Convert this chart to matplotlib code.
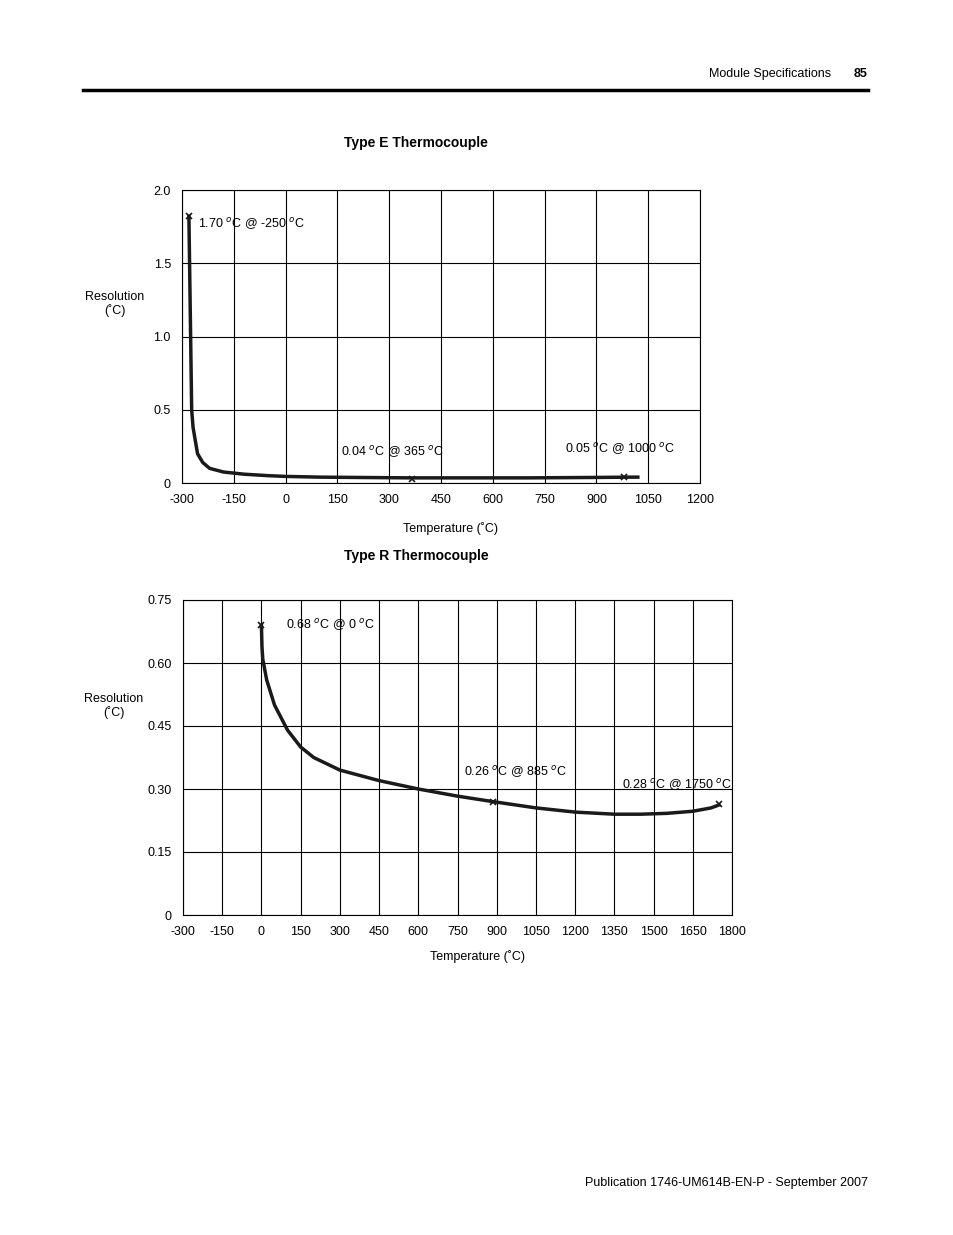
import matplotlib
matplotlib.use("Agg")
import matplotlib.pyplot as plt

plt.rcParams['font.family'] = ['Liberation Sans Narrow', 'Liberation Sans', 'DejaVu Sans']
plt.rcParams['font.size'] = 9

W, H = 954, 1235
# Type E data
e_x = [-280, -272, -268, -255, -240, -220, -180, -120, -50, 0, 100, 200, 365, 500, 700, 900, 1000, 1020]
e_y = [1.82, 0.50, 0.38, 0.20, 0.14, 0.10, 0.075, 0.06, 0.05, 0.045, 0.04, 0.038, 0.035, 0.035, 0.035, 0.038, 0.04, 0.04]
e_mark_x = [-280, 365, 980]
e_mark_y = [1.82, 0.025, 0.04]
e_xticks = [-300, -150, 0, 150, 300, 450, 600, 750, 900, 1050, 1200]
e_yticks = [0, 0.5, 1.0, 1.5, 2.0]
e_ylabels = ['0', '0.5', '1.0', '1.5', '2.0']

# Type R data
r_x = [0, 2, 5, 20, 50, 100, 150, 200, 300, 450, 600, 750, 885, 1050, 1200, 1350, 1450, 1550, 1650, 1720, 1750]
r_y = [0.69, 0.64, 0.61, 0.56, 0.50, 0.44, 0.40, 0.375, 0.345, 0.32, 0.30, 0.283, 0.27, 0.255, 0.245, 0.24, 0.24, 0.242, 0.247, 0.255, 0.262]
r_mark_x = [0, 885, 1750]
r_mark_y = [0.69, 0.27, 0.265]
r_xticks = [-300, -150, 0, 150, 300, 450, 600, 750, 900, 1050, 1200, 1350, 1500, 1650, 1800]
r_yticks = [0, 0.15, 0.30, 0.45, 0.60, 0.75]
r_ylabels = ['0', '0.15', '0.30', '0.45', '0.60', '0.75']

fig = plt.figure(figsize=(W/100, H/100), dpi=100)

def ax_px(l, t, r, b):
    return fig.add_axes([l/W, 1-b/H, (r-l)/W, (b-t)/H])

def style(ax, xt, yt, yl):
    ax.set_xticks(xt)
    ax.set_xticklabels([str(v) for v in xt])
    ax.set_yticks(yt)
    ax.set_yticklabels(yl)
    ax.grid(True, color='black', lw=0.8)
    ax.tick_params(length=0, pad=8)
    for s in ax.spines.values():
        s.set_linewidth(0.8)

# Type E
ax1 = ax_px(182, 190, 700, 483)
ax1.plot(e_x, e_y, color='#1a1a1a', lw=2.5)
ax1.plot(e_mark_x, e_mark_y, linestyle='none', marker='x', color='#1a1a1a', ms=5, mew=1.2)
ax1.set_xlim(-300, 1200); ax1.set_ylim(0, 2.0)
style(ax1, e_xticks, e_yticks, e_ylabels)
ax1.text(-255, 1.77, '1.70 $^{o}$C @ -250 $^{o}$C', fontsize=9, va='center')
ax1.text(160, 0.21, '0.04 $^{o}$C @ 365 $^{o}$C', fontsize=9, va='center')
ax1.text(810, 0.23, '0.05 $^{o}$C @ 1000 $^{o}$C', fontsize=9, va='center')
fig.text(115/W, 1-304/H, 'Resolution\n(˚C)', ha='center', va='center', fontsize=9)
fig.text(451/W, 1-529/H, 'Temperature (˚C)', ha='center', va='center', fontsize=9)
fig.text(416/W, 1-143/H, 'Type E Thermocouple', ha='center', va='center', fontsize=10, weight='bold')

# Type R
ax2 = ax_px(183, 600, 732, 915)
ax2.plot(r_x, r_y, color='#1a1a1a', lw=2.5)
ax2.plot(r_mark_x, r_mark_y, linestyle='none', marker='x', color='#1a1a1a', ms=5, mew=1.2)
ax2.set_xlim(-300, 1800); ax2.set_ylim(0, 0.75)
style(ax2, r_xticks, r_yticks, r_ylabels)
ax2.text(95, 0.69, '0.68 $^{o}$C @ 0 $^{o}$C', fontsize=9, va='center')
ax2.text(775, 0.34, '0.26 $^{o}$C @ 885 $^{o}$C', fontsize=9, va='center')
ax2.text(1380, 0.31, '0.28 $^{o}$C @ 1750 $^{o}$C', fontsize=9, va='center')
fig.text(114/W, 1-706/H, 'Resolution\n(˚C)', ha='center', va='center', fontsize=9)
fig.text(478/W, 1-957/H, 'Temperature (˚C)', ha='center', va='center', fontsize=9)
fig.text(416/W, 1-556/H, 'Type R Thermocouple', ha='center', va='center', fontsize=10, weight='bold')

# Page header/footer
fig.add_artist(plt.Line2D([83/W, 868/W], [1-90/H, 1-90/H], color='black', lw=2.5))
fig.text(831/W, 1-74/H, 'Module Specifications', ha='right', va='center', fontsize=9)
fig.text(868/W, 1-74/H, '85', ha='right', va='center', fontsize=9, weight='bold')
fig.text(868/W, 1-1183/H, 'Publication 1746-UM614B-EN-P - September 2007', ha='right', va='center', fontsize=9)

fig.savefig('out.png', dpi=100)
